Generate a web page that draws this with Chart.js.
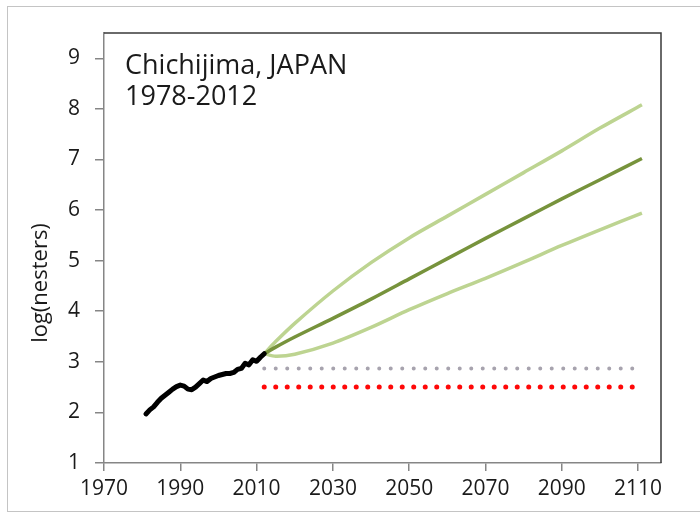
<!DOCTYPE html>
<html><head><meta charset="utf-8">
<script src="https://cdn.jsdelivr.net/npm/chart.js@4/dist/chart.umd.min.js"></script>
<style>
html,body{margin:0;padding:0;background:#fff;}
#wrap{position:relative;width:700px;height:519px;overflow:hidden;}
canvas{position:absolute;left:0;top:0;}
#frame{position:absolute;left:7px;top:6px;width:700px;height:504px;border:1px solid #c4c4c4;pointer-events:none;}
#note{position:absolute;left:125px;top:48px;font-family:"Open Sans",sans-serif;font-size:27px;line-height:31px;color:#1a1a1a;}
#ytitle{position:absolute;left:38px;top:283px;transform:translate(-50%,-50%) rotate(-90deg);font-family:"Open Sans",sans-serif;font-size:22px;color:#1a1a1a;white-space:nowrap;}
</style></head><body>
<div id="wrap"><canvas id="c" width="700" height="519"></canvas><div id="frame"></div><div id="note">Chichijima, JAPAN<br>1978-2012</div><div id="ytitle">log(nesters)</div></div>
<script>
// Observed nesters (log)
const histYears  = [1981,1982,1983,1984,1985,1986,1987,1988,1989,1990,1991,1992,1993,1994,1995,1996,1997,1998,1999,2000,2001,2002,2003,2004,2005,2006,2007,2008,2009,2010,2011,2012];
const histValues = [1.97,2.05,2.11,2.20,2.28,2.34,2.40,2.46,2.51,2.54,2.52,2.46,2.45,2.50,2.57,2.64,2.61,2.67,2.70,2.73,2.75,2.77,2.77,2.79,2.85,2.87,2.97,2.94,3.04,3.01,3.09,3.16];
// Projections
const projYears   = [2012,2015,2020,2030,2040,2050,2060,2070,2080,2090,2100,2111];
const meanValues  = [3.16,3.29,3.49,3.86,4.24,4.64,5.04,5.44,5.83,6.22,6.60,7.02];
const upperValues = [3.16,3.40,3.76,4.40,4.96,5.45,5.88,6.31,6.74,7.17,7.62,8.08];
const lowerValues = [3.16,3.11,3.15,3.37,3.68,4.03,4.35,4.65,4.97,5.30,5.61,5.94];
// Threshold levels
const levelYears = [2012,2110];
const grayLevel  = [2.87,2.87];
const redLevel   = [2.50,2.50];
// Ticks
const xTicks = [1970,1990,2010,2030,2050,2070,2090,2110];
const yTicks = [1,2,3,4,5,6,7,8,9];

const pts = (xs, ys) => xs.map((x,i)=>({x:x,y:ys[i]}));

const framePlugin = {
  id:'frame',
  beforeDatasetsDraw(chart){
    const a = chart.chartArea, ctx = chart.ctx;
    ctx.save();
    ctx.strokeStyle='#3a3a3a'; ctx.lineWidth=1.5;
    ctx.beginPath();
    ctx.moveTo(a.left, a.top); ctx.lineTo(a.right, a.top); ctx.lineTo(a.right, a.bottom);
    ctx.stroke();
    ctx.restore();
  }
};

const font = {family:'"Open Sans", sans-serif', size:21};

new Chart(document.getElementById('c'), {
  type:'line',
  data:{datasets:[
    {data:pts(levelYears, grayLevel), borderColor:'#a7a3ae', borderWidth:4, borderDash:[0,11.5], borderCapStyle:'round', pointRadius:0, order:5},
    {data:pts(levelYears, redLevel), borderColor:'#ff0808', borderWidth:5, borderDash:[0,11.5], borderCapStyle:'round', pointRadius:0, order:4},
    {data:pts(projYears, upperValues), borderColor:'#bdd491', borderWidth:3.5, pointRadius:0, tension:0.3, order:3},
    {data:pts(projYears, lowerValues), borderColor:'#bdd491', borderWidth:3.5, pointRadius:0, tension:0.3, order:3},
    {data:pts(projYears, meanValues), borderColor:'#77933c', borderWidth:3.5, pointRadius:0, tension:0.3, order:2},
    {data:pts(histYears, histValues), borderColor:'#000000', borderWidth:5, pointRadius:0, borderJoinStyle:'round', borderCapStyle:'round', order:1}
  ]},
  options:{
    responsive:false, animation:false, devicePixelRatio:1,
    layout:{padding:{top:33,right:39,left:0,bottom:0}},
    plugins:{legend:{display:false}, tooltip:{enabled:false}},
    scales:{
      x:{type:'linear', min:1970, max:2116,
        afterBuildTicks(s){ s.ticks = xTicks.map(v=>({value:v})); },
        afterFit(s){ s.height = 56; },
        grid:{drawOnChartArea:false, drawTicks:true, tickLength:8, color:'#868686', lineWidth:1.5},
        border:{color:'#868686', width:1.5},
        ticks:{font:font, color:'#1a1a1a', padding:5, maxRotation:0, autoSkip:false, callback:(v)=>String(v)}
      },
      y:{type:'linear', min:1, max:9.5,
        afterBuildTicks(s){ s.ticks = yTicks.map(v=>({value:v})); },
        afterFit(s){ s.width = 104; },
        grid:{drawOnChartArea:false, drawTicks:true, tickLength:9, color:'#868686', lineWidth:1.5},
        border:{color:'#868686', width:1.5},
        ticks:{font:font, color:'#1a1a1a', padding:15, callback:(v)=>String(v)}
      }
    }
  },
  plugins:[framePlugin]
});
</script>
</body></html>
